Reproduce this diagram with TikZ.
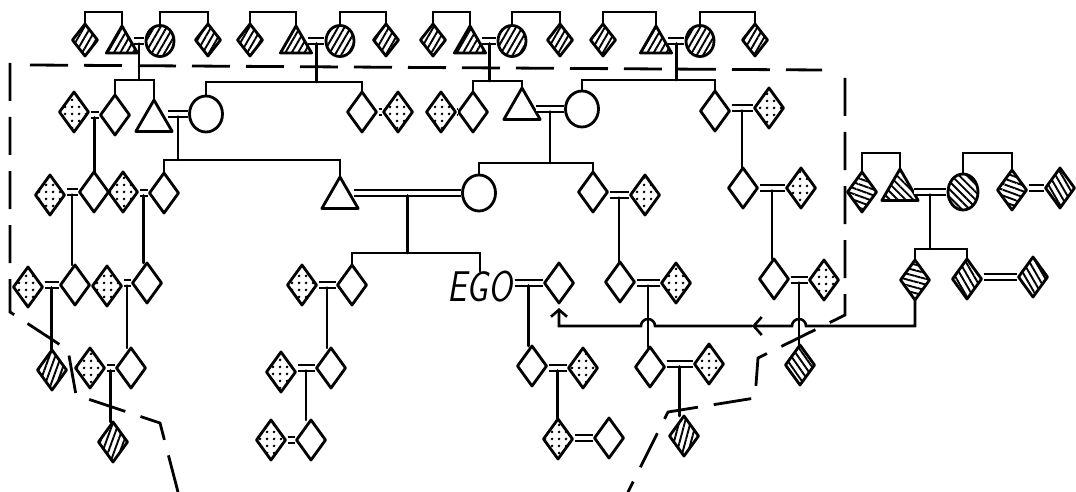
\documentclass[tikz,border=0pt]{standalone}
\usetikzlibrary{shapes.geometric,patterns.meta,arrows.meta,calc}
\newcommand{\kinmarry}[3]{%
  \coordinate (#3l) at (#1.east |- #2.west);
  \draw[marr] (#3l) -- (#2.west);
  \coordinate (#3) at ($(#3l)!.5!(#2.west)+(0,2.5)$);}
\newcommand{\kinpair}[4]{%
  \draw[link] (#1) -- (#1 |- #2);
  \draw[link] (#3.north) -- (#3.north |- #2) -- (#4.north |- #2) -- (#4.north);}
\newcommand{\kinone}[2]{\draw[link] (#1) -- (#1 |- #2.north);}
\newcommand{\kinsib}[3]{\draw[link] (#2.north) -- (#2.north |- #1) -- (#3.north |- #1) -- (#3.north);}
\begin{document}
\begin{tikzpicture}[x=1pt,y=-1pt,
  kin/.style={draw, line width=2.8pt, inner sep=0pt, outer sep=0pt, line join=round},
  dia/.style={kin, diamond, minimum width=29pt, minimum height=40pt},
  sdia/.style={kin, diamond, minimum width=25pt, minimum height=32pt},
  tri/.style={kin, regular polygon, regular polygon sides=3, minimum size=42pt},
  stri/.style={kin, regular polygon, regular polygon sides=3, minimum size=36pt},
  ell/.style={kin, ellipse, minimum width=33pt, minimum height=36pt},
  sell/.style={kin, ellipse, minimum width=28pt, minimum height=31pt},
  dots/.style={pattern={Dots[radius=1.5pt, distance=6.5pt]}},
  hat/.style={pattern={Lines[angle=#1, distance=5.5pt, line width=1.9pt]}},
  link/.style={line width=2.6pt, line cap=round},
  marr/.style={double, double distance=3.5pt, line width=2.4pt, shorten <=2pt, shorten >=2pt},
  bound/.style={line width=2.8pt, dash pattern=on 38pt off 16pt},
  egotext/.style={inner sep=0pt, font=\fontsize{43}{43}\selectfont\sffamily\slshape}
]
\fill[white] (0,0) rectangle (1076,492);
\useasboundingbox (0,0) rectangle (1076,492);

% dashed boundaries
\draw[bound] (30,65) -- (822,70);
\draw[bound] (10,63) -- (10,312) -- (68,350) -- (76,395) -- (160,423) -- (178,492);
\draw[bound] (845,78) -- (845,315) -- (758,358) -- (755,398) -- (668,412) -- (628,492);

% ---------- top row ----------
\node[sdia,hat=60] (a1) at (85,40) {};
\node[stri,hat=60] (a2) at (122,44) {};
\node[sell,hat=60] (a3) at (160,41) {};
\node[sdia,hat=60] (a4) at (208,40) {};
\node[sdia,hat=60] (b1) at (250,40) {};
\node[stri,hat=60] (b2) at (296,44) {};
\node[sell,hat=60] (b3) at (340,41) {};
\node[sdia,hat=60] (b4) at (386,40) {};
\node[sdia,hat=60] (c1) at (433,40) {};
\node[stri,hat=60] (c2) at (470,44) {};
\node[sell,hat=60] (c3) at (512,41) {};
\node[sdia,hat=60] (c4) at (560,40) {};
\node[sdia,hat=60] (d1) at (603,40) {};
\node[stri,hat=60] (d2) at (656,44) {};
\node[sell,hat=60] (d3) at (700,41) {};
\node[sdia,hat=60] (d4) at (755,40) {};
\coordinate (t0) at (0,12);
\kinsib{t0}{a1}{a2} \kinsib{t0}{a3}{a4}
\kinsib{t0}{b1}{b2} \kinsib{t0}{b3}{b4}
\kinsib{t0}{c1}{c2} \kinsib{t0}{c3}{c4}
\kinsib{t0}{d1}{d2} \kinsib{t0}{d3}{d4}
\kinmarry{a2}{a3}{ma}
\kinmarry{b2}{b3}{mb}
\kinmarry{c2}{c3}{mc}
\kinmarry{d2}{d3}{md}

% ---------- row 1 ----------
\node[dia,dots] (e1) at (74,112) {};
\node[dia] (e2) at (115,115) {};
\node[tri] (e3) at (154,121) {};
\node[ell] (e4) at (206,114) {};
\node[dia] (e5) at (362,112) {};
\node[dia,dots] (e6) at (398,112) {};
\node[dia,dots] (e7) at (441,112) {};
\node[dia] (e8) at (473,112) {};
\node[tri] (e9) at (522,109) {};
\node[ell] (e10) at (582,109) {};
\node[dia] (e11) at (715,111) {};
\node[dia,dots] (e12) at (769,108) {};
\coordinate (r1a) at (0,80);
\coordinate (r1b) at (0,82);
\coordinate (r1c) at (0,81);
\coordinate (r1d) at (0,80);
\kinpair{ma}{r1a}{e2}{e3}
\kinpair{mb}{r1b}{e4}{e5}
\kinpair{mc}{r1c}{e8}{e9}
\kinpair{md}{r1d}{e10}{e11}
\kinmarry{e1}{e2}{me1}
\kinmarry{e3}{e4}{me2}
\kinmarry{e5}{e6}{me3}
\kinmarry{e7}{e8}{me4}
\kinmarry{e9}{e10}{me5}
\kinmarry{e11}{e12}{me6}

% ---------- row 2 ----------
\node[dia,dots] (f1) at (50,195) {};
\node[dia] (f2) at (94,192) {};
\node[dia,dots] (f3) at (123,192) {};
\node[dia] (f4) at (164,193) {};
\node[tri] (f5) at (340,198) {};
\node[ell] (f6) at (479,193) {};
\node[dia] (f7) at (593,192) {};
\node[dia,dots] (f8) at (645,195) {};
\node[dia] (f9) at (743,188) {};
\node[dia,dots] (f10) at (801,188) {};
\node[dia,hat=-20] (g1) at (862,192) {};
\node[tri,hat=-45] (g2) at (900,190) {};
\node[ell,minimum width=30pt,hat=-45] (g3) at (963,192) {};
\node[dia,hat=-20] (g4) at (1012,190) {};
\node[dia,hat=-60] (g5) at (1060,188) {};
\coordinate (r2a) at (0,160);
\coordinate (r2b) at (0,163);
\coordinate (t1) at (0,153);
\kinone{me1}{f2}
\kinpair{me2}{r2a}{f4}{f5}
\kinpair{me5}{r2b}{f6}{f7}
\kinone{me6}{f9}
\kinsib{t1}{g1}{g2} \kinsib{t1}{g3}{g4}
\kinmarry{f1}{f2}{mf1}
\kinmarry{f3}{f4}{mf2}
\kinmarry{f5}{f6}{mf3}
\kinmarry{f7}{f8}{mf4}
\kinmarry{f9}{f10}{mf5}
\kinmarry{g2}{g3}{mg1}
\kinmarry{g4}{g5}{mg2}

% ---------- row 3 ----------
\node[dia,dots] (h1) at (28,287) {};
\node[dia] (h2) at (75,285) {};
\node[dia,dots] (h3) at (107,286) {};
\node[dia] (h4) at (147,283) {};
\node[dia,dots] (h5) at (302,285) {};
\node[dia] (h6) at (352,285) {};
\node[egotext] (ego) at (480,287) {\scalebox{0.8}[1]{EGO}};
\node[dia] (h7) at (559,283) {};
\node[dia] (h8) at (620,282) {};
\node[dia,dots] (h9) at (676,283) {};
\node[dia] (h10) at (774,279) {};
\node[dia,dots] (h11) at (824,280) {};
\node[dia,hat=-15] (k1) at (915,280) {};
\node[dia,hat=-60] (k2) at (967,279) {};
\node[dia,hat=-60] (k3) at (1033,277) {};
\coordinate (r3a) at (0,253);
\coordinate (r3b) at (0,249);
\kinone{mf1}{h2}
\kinone{mf2}{h4}
\kinpair{mf3}{r3a}{h6}{ego}
\kinone{mf4}{h8}
\kinone{mf5}{h10}
\kinpair{mg1}{r3b}{k1}{k2}
\kinmarry{h1}{h2}{mh1}
\kinmarry{h3}{h4}{mh2}
\kinmarry{h5}{h6}{mh3}
\kinmarry{ego}{h7}{mh4}
\kinmarry{h8}{h9}{mh5}
\kinmarry{h10}{h11}{mh6}
\kinmarry{k2}{k3}{mk}

% ---------- row 4 ----------
\node[dia,hat=70] (i1) at (52,370) {};
\node[dia,dots] (i2) at (90,368) {};
\node[dia] (i3) at (131,368) {};
\node[dia,dots] (i4) at (281,372) {};
\node[dia] (i5) at (331,368) {};
\node[dia] (i6) at (532,366) {};
\node[dia,dots] (i7) at (583,368) {};
\node[dia] (i8) at (650,367) {};
\node[dia,dots] (i9) at (709,364) {};
\node[dia,hat=-55] (i10) at (800,365) {};
\kinone{mh1}{i1}
\kinone{mh2}{i3}
\kinone{mh3}{i5}
\kinone{mh4}{i6}
\kinone{mh5}{i8}
\kinone{mh6}{i10}
\kinmarry{i2}{i3}{mi1}
\kinmarry{i4}{i5}{mi2}
\kinmarry{i6}{i7}{mi3}
\kinmarry{i8}{i9}{mi4}

% ---------- row 5 ----------
\node[dia,hat=70] (j1) at (113,442) {};
\node[dia,dots] (j2) at (271,440) {};
\node[dia] (j3) at (311,440) {};
\node[dia,dots] (j4) at (558,439) {};
\node[dia] (j5) at (609,438) {};
\node[dia,hat=75] (j6) at (684,436) {};
\kinone{mi1}{j1}
\kinone{mi2}{j3}
\kinone{mi3}{j4}
\kinone{mi4}{j6}
\kinmarry{j2}{j3}{mj1}
\kinmarry{j4}{j5}{mj2}

% ---------- arrow line ----------
\coordinate (ar) at (0,326);
\coordinate (hopA) at (mh6 |- ar);
\coordinate (hopB) at (mh5 |- ar);
\coordinate (mid) at (752,326);
\draw[link, -{Straight Barb[length=8pt,width=18pt]}] (k1.south) -- (k1.south |- ar)
  -- ($(hopA)+(7,0)$) arc[start angle=0, end angle=180, radius=7pt] -- (mid);
\draw[link, shorten >=5pt, -{Straight Barb[length=7pt,width=16pt]}] (mid)
  -- ($(hopB)+(7,0)$) arc[start angle=0, end angle=180, radius=7pt]
  -- (h7.south |- ar) -- (h7.south);
\end{tikzpicture}
\end{document}
